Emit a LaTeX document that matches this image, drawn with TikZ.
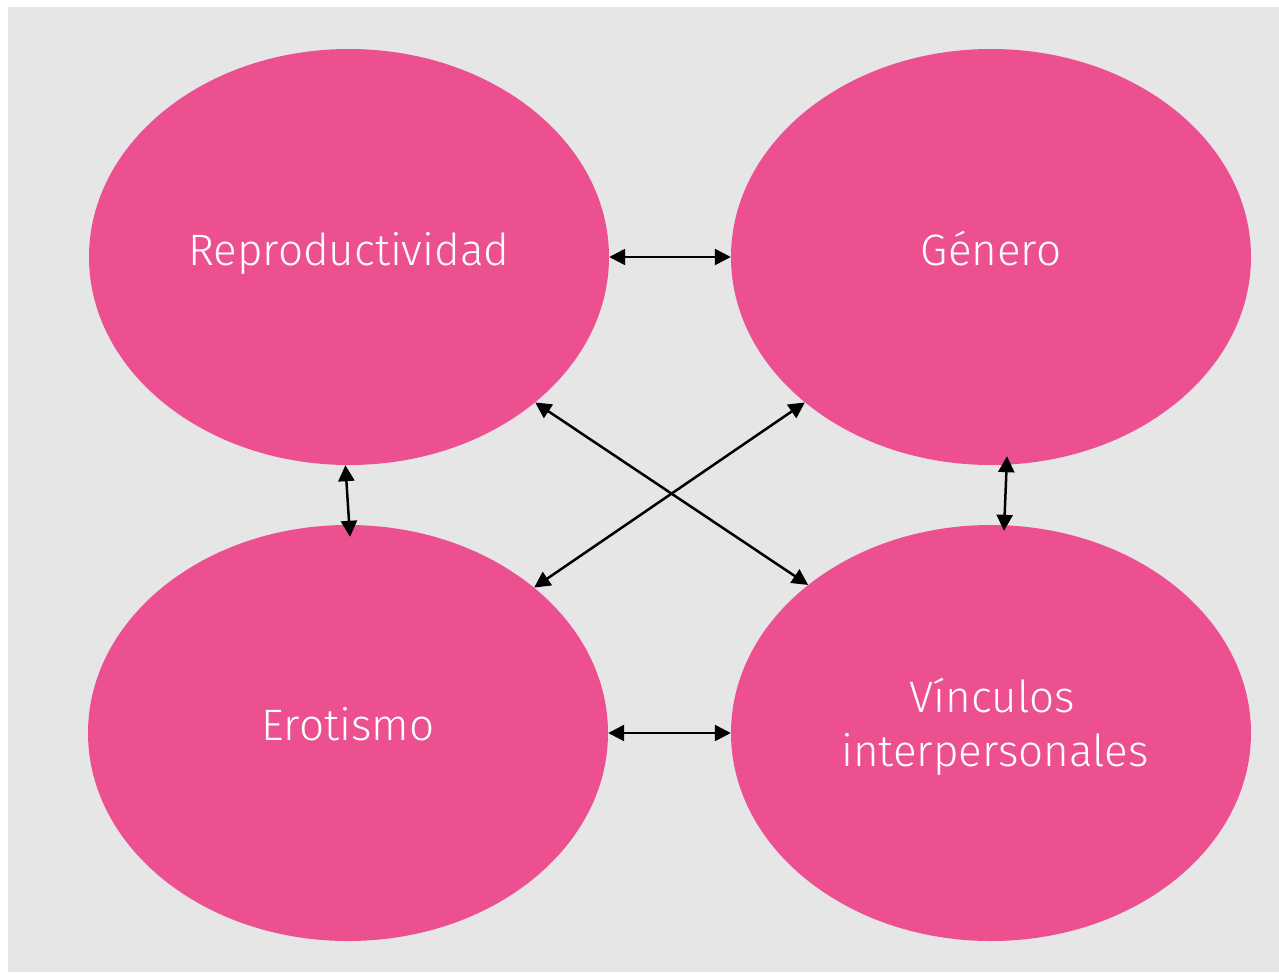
\documentclass[tikz,border=0pt]{standalone}
\usepackage{fontspec}
\setmainfont{Fira Sans Light}
\usetikzlibrary{shapes.geometric,arrows.meta,calc}
\definecolor{bgGrey}{RGB}{230,230,230}
\definecolor{rosa}{RGB}{236,80,144}
\tikzset{
  blob/.style={ellipse,fill=rosa,draw=none,minimum width=520pt,minimum height=416pt,inner sep=0pt},
  lbl/.style={text=white,font=\fontsize{44}{52}\selectfont,anchor=base,inner sep=0pt},
  link/.style={line width=2.5pt,{Triangle[width=16pt,length=16pt]}-{Triangle[width=16pt,length=16pt]}}
}
\begin{document}
\begin{tikzpicture}[x=1pt,y=-1pt]
\useasboundingbox (0,0) rectangle (1279,972);
\fill[bgGrey] (8,7) rectangle (1279,972);
\node[blob] (tl) at (349,257) {};
\node[blob] (tr) at (991,257) {};
\node[blob] (bl) at (348,733) {};
\node[blob] (br) at (991,733) {};
\node[lbl] (t1) at (349,265) {Reproductividad};
\node[lbl] (t2) at (991,265) {Género};
\node[lbl] (t3) at (348,740) {Erotismo};
\node[lbl] (t4) at (992,712) {Vínculos};
\node[lbl] (t5) at (995,766) {interpersonales};
\draw[link] (tl) -- (tr);
\draw[link] (bl) -- (br);
\draw[link] (tl.269.4) -- ($(bl.north)+(2,12)$);
\draw[link] ($(tr.south)+(16,-9)$) -- ($(br.north)+(13,6)$);
\draw[link] (tl.-38.4) -- (br.141.6);
\draw[link] (tr.218.4) -- (bl.38.2);
\end{tikzpicture}
\end{document}
